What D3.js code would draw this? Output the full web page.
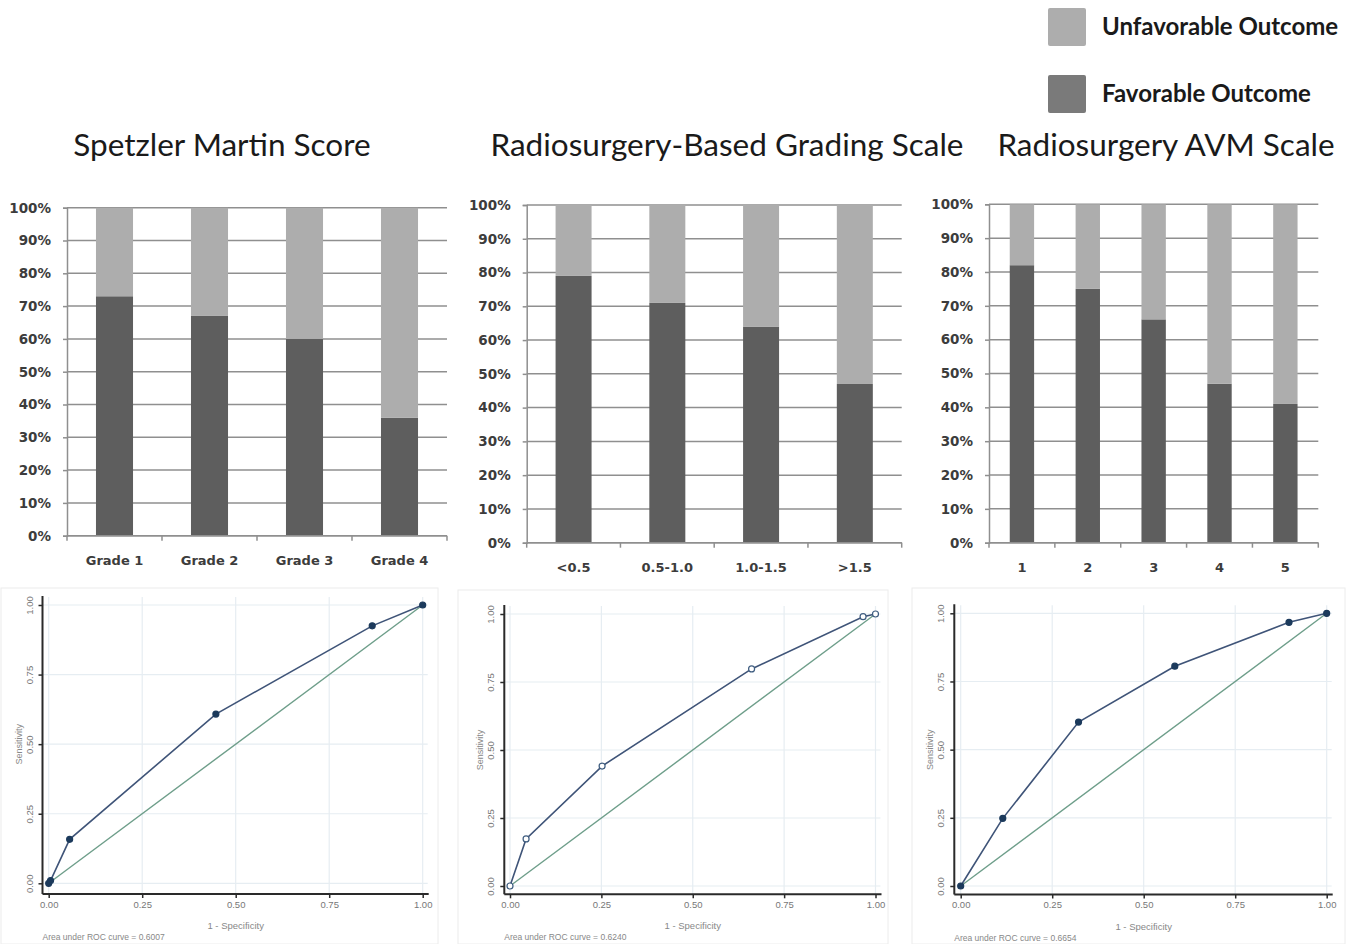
<!DOCTYPE html>
<html>
<head>
<meta charset="utf-8">
<script src="https://cdn.jsdelivr.net/npm/d3@7"></script>
<style>
  html, body { margin: 0; padding: 0; background: #ffffff; }
  svg { display: block; }
</style>
</head>
<body>
<svg id="chart" width="1353" height="944"></svg>
<script>
// ---------------- DATA ----------------
const legendLabels = ["Unfavorable Outcome", "Favorable Outcome"];
const barTitles = ["Spetzler Martin Score", "Radiosurgery-Based Grading Scale", "Radiosurgery AVM Scale"];
const pctTicks = [0, 10, 20, 30, 40, 50, 60, 70, 80, 90, 100];

const smCategories = ["Grade 1", "Grade 2", "Grade 3", "Grade 4"];
const smFavorable = [73, 67, 60, 36];
const smUnfavorable = [27, 33, 40, 64];

const rbgsCategories = ["<0.5", "0.5-1.0", "1.0-1.5", ">1.5"];
const rbgsFavorable = [79, 71, 64, 47];
const rbgsUnfavorable = [21, 29, 36, 53];

const ravmCategories = ["1", "2", "3", "4", "5"];
const ravmFavorable = [82, 75, 66, 47, 41];
const ravmUnfavorable = [18, 25, 34, 53, 59];

const rocTicks = [0, 0.25, 0.5, 0.75, 1];
const smRocX = [0, 0.005, 0.056, 0.447, 0.865, 1];
const smRocY = [0, 0.01, 0.158, 0.608, 0.925, 1];
const rbgsRocX = [0, 0.044, 0.252, 0.661, 0.966, 1];
const rbgsRocY = [0, 0.173, 0.441, 0.798, 0.99, 1];
const ravmRocX = [0, 0.115, 0.322, 0.585, 0.897, 1];
const ravmRocY = [0, 0.248, 0.601, 0.806, 0.967, 1];
const aucLabels = ["Area under ROC curve = 0.6007", "Area under ROC curve = 0.6240", "Area under ROC curve = 0.6654"];

// ---------------- STYLE ----------------
const COL_FAV = "#5e5e5e";
const COL_UNFAV = "#adadad";
const COL_LEG_FAV = "#7a7a7a";
const COL_GRID = "#8f8f8f";

const svg = d3.select("#chart");

// ---------------- LEGEND ----------------
const legend = svg.append("g");
[{label: legendLabels[0], color: COL_UNFAV, y: 8}, {label: legendLabels[1], color: COL_LEG_FAV, y: 75}].forEach(d => {
  legend.append("rect").attr("x", 1048).attr("y", d.y).attr("width", 38).attr("height", 38)
    .attr("rx", 2).attr("fill", d.color);
  legend.append("text").attr("x", 1102).attr("y", d.y + 19).attr("dy", "0.35em")
    .attr("font-family", "Lato, 'Open Sans', sans-serif").attr("font-weight", "bold")
    .attr("font-size", 24).attr("fill", "#1a1a1a").text(d.label);
});

// ---------------- BAR CHARTS ----------------
const barConfigs = [
  {cats: smCategories, fav: smFavorable, unfav: smUnfavorable, title: barTitles[0], titleX: 222,
   left: 67, right: 447, top: 207.7, bottom: 535.7, pad: 0.61, catY: 560},
  {cats: rbgsCategories, fav: rbgsFavorable, unfav: rbgsUnfavorable, title: barTitles[1], titleX: 727,
   left: 526.7, right: 901.7, top: 205, bottom: 542.7, pad: 0.616, catY: 567},
  {cats: ravmCategories, fav: ravmFavorable, unfav: ravmUnfavorable, title: barTitles[2], titleX: 1166,
   left: 989, right: 1318.3, top: 204.3, bottom: 542.7, pad: 0.63, catY: 567}
];

barConfigs.forEach(cfg => {
  const g = svg.append("g");
  g.append("text").attr("x", cfg.titleX).attr("y", 145).attr("dy", "0.35em")
    .attr("text-anchor", "middle").attr("font-family", "Lato, 'Open Sans', sans-serif")
    .attr("font-size", 31.5).attr("fill", "#1a1a1a").text(cfg.title);

  const x = d3.scaleBand().domain(cfg.cats).range([cfg.left, cfg.right])
    .paddingInner(cfg.pad).paddingOuter(cfg.pad / 2);
  const y = d3.scaleLinear().domain([0, 100]).range([cfg.bottom, cfg.top]);

  // gridlines
  g.append("g").selectAll("line").data(pctTicks).join("line")
    .attr("x1", cfg.left).attr("x2", cfg.right)
    .attr("y1", d => y(d)).attr("y2", d => y(d))
    .attr("stroke", COL_GRID).attr("stroke-width", 1.5);

  // y axis
  const yAxis = d3.axisLeft(y).tickValues(pctTicks).tickFormat(d => d + "%").tickSize(4).tickPadding(12);
  const ya = g.append("g").attr("transform", `translate(${cfg.left},0)`).call(yAxis);
  ya.select(".domain").attr("stroke", COL_GRID).attr("stroke-width", 1.5);
  ya.selectAll(".tick line").attr("stroke", COL_GRID).attr("stroke-width", 1.5);
  ya.selectAll(".tick text").attr("font-family", "'DejaVu Sans', sans-serif").attr("font-weight", "bold")
    .attr("font-size", 13.5).attr("fill", "#3c3c3c");

  // stacked bars
  const rows = cfg.cats.map((c, i) => ({cat: c, fav: cfg.fav[i], unfav: cfg.unfav[i]}));
  const stack = d3.stack().keys(["fav", "unfav"])(rows);
  const colors = {fav: COL_FAV, unfav: COL_UNFAV};
  stack.forEach(layer => {
    g.append("g").selectAll("rect").data(layer).join("rect")
      .attr("x", d => x(d.data.cat)).attr("width", x.bandwidth())
      .attr("y", d => y(d[1])).attr("height", d => y(d[0]) - y(d[1]))
      .attr("fill", colors[layer.key]);
  });

  // x axis line with boundary ticks
  g.append("line").attr("x1", cfg.left).attr("x2", cfg.right).attr("y1", cfg.bottom).attr("y2", cfg.bottom)
    .attr("stroke", COL_GRID).attr("stroke-width", 1.5);
  const bounds = d3.range(cfg.cats.length + 1).map(i => cfg.left + i * x.step());
  g.append("g").selectAll("line").data(bounds).join("line")
    .attr("x1", d => d).attr("x2", d => d).attr("y1", cfg.bottom).attr("y2", cfg.bottom + 5)
    .attr("stroke", COL_GRID).attr("stroke-width", 1.5);
  g.append("g").selectAll("text").data(cfg.cats).join("text")
    .attr("x", d => x(d) + x.bandwidth() / 2).attr("y", cfg.catY).attr("dy", "0.35em")
    .attr("text-anchor", "middle").attr("font-family", "'DejaVu Sans', sans-serif").attr("font-weight", "bold")
    .attr("font-size", 13).attr("fill", "#3c3c3c").text(d => d);
});

// ---------------- ROC PLOTS ----------------
const rocConfigs = [
  {xs: smRocX, ys: smRocY, auc: aucLabels[0], filled: true,
   x0: 48.7, x1: 422.7, y0: 883.3, y1: 605, axX: 42.5, axY: 894, frame: [1, 588, 437, 356]},
  {xs: rbgsRocX, ys: rbgsRocY, auc: aucLabels[1], filled: false,
   x0: 510, x1: 875.5, y0: 886, y1: 614, axX: 504.3, axY: 894.3, frame: [458, 590, 430, 354]},
  {xs: ravmRocX, ys: ravmRocY, auc: aucLabels[2], filled: true,
   x0: 960.7, x1: 1326.7, y0: 886, y1: 613.3, axX: 954.3, axY: 894.5, frame: [912, 588, 433, 356]}
];

rocConfigs.forEach(cfg => {
  const g = svg.append("g");
  g.append("rect").attr("x", cfg.frame[0]).attr("y", cfg.frame[1]).attr("width", cfg.frame[2]).attr("height", cfg.frame[3])
    .attr("fill", "none").attr("stroke", "#ececec").attr("stroke-width", 1);

  const x = d3.scaleLinear().domain([0, 1]).range([cfg.x0, cfg.x1]);
  const y = d3.scaleLinear().domain([0, 1]).range([cfg.y0, cfg.y1]);

  // grid
  g.append("g").selectAll("line").data(rocTicks).join("line")
    .attr("x1", cfg.axX).attr("x2", cfg.x1 + 5).attr("y1", d => y(d)).attr("y2", d => y(d))
    .attr("stroke", "#e6edf2").attr("stroke-width", 1.2);
  g.append("g").selectAll("line").data(rocTicks).join("line")
    .attr("y1", cfg.axY).attr("y2", cfg.y1 - 8).attr("x1", d => x(d)).attr("x2", d => x(d))
    .attr("stroke", "#e6edf2").attr("stroke-width", 1.2);

  // axes
  const xa = g.append("g").attr("transform", `translate(0,${cfg.axY})`)
    .call(d3.axisBottom(x).tickValues(rocTicks).tickFormat(d3.format(".2f")).tickSize(4).tickPadding(3));
  xa.select(".domain").remove();
  g.append("line").attr("x1", cfg.axX).attr("x2", cfg.x1 + 6).attr("y1", cfg.axY).attr("y2", cfg.axY)
    .attr("stroke", "#2a2a2a").attr("stroke-width", 2);
  xa.selectAll(".tick line").attr("stroke", "#2a2a2a").attr("stroke-width", 1.5);
  xa.selectAll(".tick text").attr("font-family", "'Liberation Sans', Arial, sans-serif")
    .attr("font-size", 9.5).attr("fill", "#777");

  const ya = g.append("g").attr("transform", `translate(${cfg.axX},0)`)
    .call(d3.axisLeft(y).tickValues(rocTicks).tickFormat(d3.format(".2f")).tickSize(4).tickPadding(3));
  ya.select(".domain").remove();
  g.append("line").attr("x1", cfg.axX).attr("x2", cfg.axX).attr("y1", cfg.y1 - 9).attr("y2", cfg.axY)
    .attr("stroke", "#2a2a2a").attr("stroke-width", 2);
  ya.selectAll(".tick line").attr("stroke", "#2a2a2a").attr("stroke-width", 1.5);
  ya.selectAll(".tick text")
    .attr("font-family", "'Liberation Sans', Arial, sans-serif").attr("font-size", 9.5).attr("fill", "#777")
    .attr("text-anchor", "middle").attr("dy", null).attr("x", null)
    .attr("transform", "translate(-10,0) rotate(-90)");

  // axis titles
  g.append("text").attr("transform", `translate(${cfg.axX - 21},${(cfg.y0 + cfg.y1) / 2}) rotate(-90)`)
    .attr("text-anchor", "middle").attr("font-family", "'Liberation Sans', Arial, sans-serif")
    .attr("font-size", 9).attr("fill", "#888").text("Sensitivity");
  g.append("text").attr("x", (cfg.x0 + cfg.x1) / 2).attr("y", cfg.axY + 35)
    .attr("text-anchor", "middle").attr("font-family", "'Liberation Sans', Arial, sans-serif")
    .attr("font-size", 9.5).attr("fill", "#888").text("1 - Specificity");
  g.append("text").attr("x", cfg.axX).attr("y", cfg.axY + 46)
    .attr("font-family", "'Liberation Sans', Arial, sans-serif")
    .attr("font-size", 8.5).attr("fill", "#888").text(cfg.auc);

  // reference diagonal
  g.append("path").datum([0, 1])
    .attr("d", d3.line().x(d => x(d)).y(d => y(d)))
    .attr("stroke", "#6e9e8a").attr("stroke-width", 1.4).attr("fill", "none");

  // ROC curve
  const pts = cfg.xs.map((v, i) => [v, cfg.ys[i]]);
  g.append("path").datum(pts)
    .attr("d", d3.line().x(d => x(d[0])).y(d => y(d[1])))
    .attr("stroke", "#3f5478").attr("stroke-width", 1.6).attr("fill", "none");
  g.append("g").selectAll("circle").data(pts).join("circle")
    .attr("cx", d => x(d[0])).attr("cy", d => y(d[1])).attr("r", 3)
    .attr("fill", cfg.filled ? "#1c3a5c" : "#ffffff")
    .attr("stroke", cfg.filled ? "#1c3a5c" : "#3f5d80").attr("stroke-width", 1.2);
});
</script>
</body>
</html>
